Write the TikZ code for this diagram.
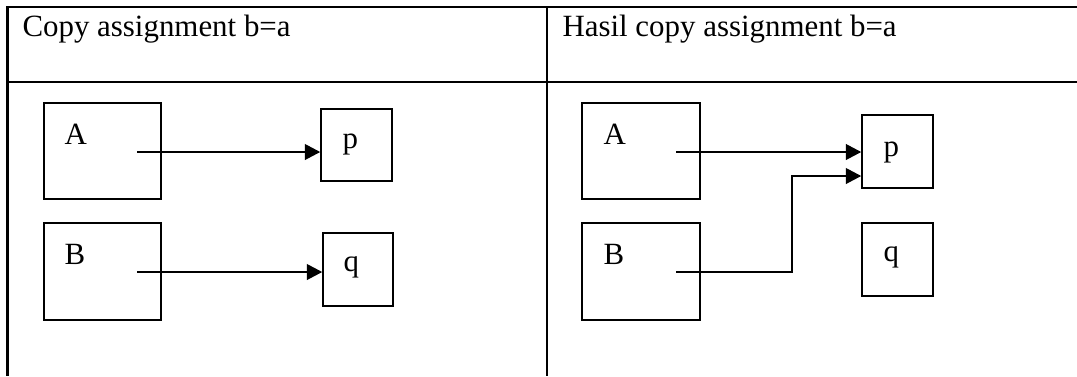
\documentclass[tikz,border=0pt]{standalone}
\usepackage{fontspec}
\setmainfont{Liberation Serif}
\usetikzlibrary{arrows.meta,fit}

\begin{document}
\begin{tikzpicture}[
  x=0.3883pt, y=-0.3883pt,
  every node/.style={font=\fontsize{12pt}{14pt}\selectfont},
  grid/.style={line width=0.78pt},
  box/.style={draw, line width=0.62pt, inner sep=0pt},
  txt/.style={anchor=base west, inner sep=0pt},
  link/.style={line width=0.5pt, -{Triangle[length=6pt,width=6.2pt]}}
]
\useasboundingbox (0,0) rectangle (1077,376);

% table frame
\draw[grid] (7,7) -- (1077,7);
\draw[grid] (7,81.5) -- (1077,81.5);
\draw[grid] (7.5,6.2) -- (7.5,376);
\draw[grid] (547,6.2) -- (547,376);

% headers
\node[txt] (h1) at (22,36) {Copy assignment b=a};
\node[txt] (h2) at (562,36) {Hasil copy assignment b=a};

% left panel: before the assignment
\node[box, fit={(44,103) (161,199)}] (A1) {};
\node[box, fit={(44,223) (161,320)}] (B1) {};
\node[box, fit={(321,109) (392,181)}] (p1) {};
\node[box, fit={(323,233) (393,306)}] (q1) {};
\node[txt] (lA1) at (64,144) {A};
\node[txt] (lB1) at (64,264) {B};
\node[txt] (lp1) at (342,148) {p};
\node[txt] (lq1) at (343,271) {q};
\coordinate (a1) at (137,152);
\coordinate (b1) at (137,272);
\draw[link] (a1) -- (p1.west |- a1);
\draw[link] (b1) -- (q1.west |- b1);

% right panel: after the assignment
\node[box, fit={(582,103) (700,199)}] (A2) {};
\node[box, fit={(582,223) (700,320)}] (B2) {};
\node[box, fit={(862,115) (933,188)}] (p2) {};
\node[box, fit={(862,223) (933,296)}] (q2) {};
\node[txt] (lA2) at (603,144) {A};
\node[txt] (lB2) at (603,264) {B};
\node[txt] (lp2) at (883,156) {p};
\node[txt] (lq2) at (883,261) {q};
\coordinate (a2) at (676,152);
\coordinate (b2) at (676,272);
\coordinate (bend) at (792,176);
\draw[link] (a2) -- (p2.west |- a2);
\draw[link] (b2) -- (bend |- b2) -- (bend) -- (p2.west |- bend);
\end{tikzpicture}
\end{document}
